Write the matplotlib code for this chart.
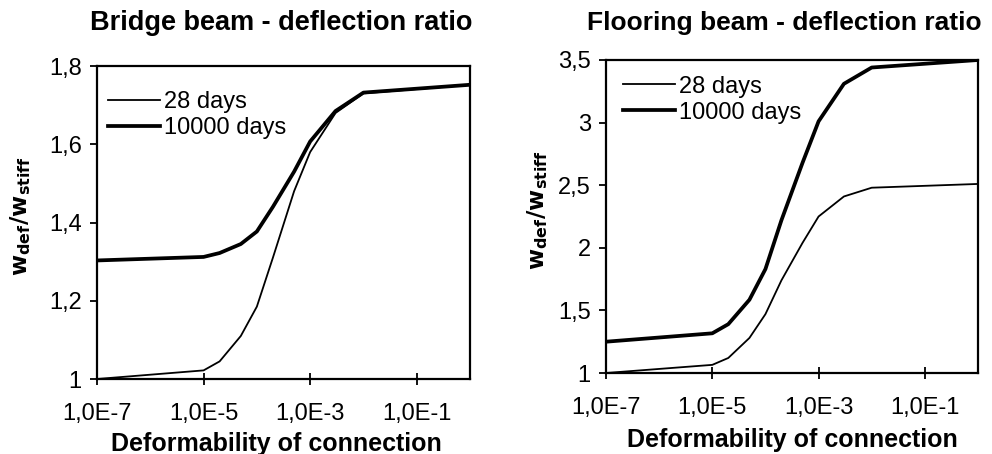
import math
import matplotlib
matplotlib.use("Agg")
import matplotlib.pyplot as plt
from matplotlib.ticker import FixedLocator, FuncFormatter, NullLocator

plt.rcParams['font.family'] = ['Liberation Sans', 'DejaVu Sans']

x_vals = [1e-7, 1e-5, 2e-5, 5e-5, 1e-4, 2e-4, 5e-4, 1e-3, 3e-3, 1e-2, 1.0]

bridge_28 = [1.0, 1.022, 1.045, 1.11, 1.185, 1.31, 1.48, 1.58, 1.68, 1.73, 1.752]
bridge_10000 = [1.303, 1.312, 1.322, 1.345, 1.377, 1.44, 1.53, 1.607, 1.685, 1.732, 1.752]

floor_28 = [1.0, 1.065, 1.12, 1.28, 1.47, 1.74, 2.04, 2.25, 2.41, 2.48, 2.51]
floor_10000 = [1.25, 1.317, 1.39, 1.585, 1.83, 2.22, 2.68, 3.01, 3.31, 3.44, 3.5]

titles = ["Bridge beam - deflection ratio", "Flooring beam - deflection ratio"]
legend_labels = ["28 days", "10000 days"]
xlabel = "Deformability of connection"
ylabel = r"$\mathbf{w_{def}/w_{stiff}}$"
x_ticks = [1e-7, 1e-5, 1e-3, 1e-1]
bridge_yticks = [1.0, 1.2, 1.4, 1.6, 1.8]
floor_yticks = [1.0, 1.5, 2.0, 2.5, 3.0, 3.5]


def fmt_x(v, pos):
    e = int(round(math.log10(v)))
    return "1,0E%d" % e


def fmt_y(v, pos):
    return ("%g" % round(v, 2)).replace('.', ',')


fig = plt.figure(figsize=(9.92, 4.54), dpi=100)
ax1 = fig.add_axes([97 / 992, 75 / 454, 373 / 992, 313 / 454])
ax2 = fig.add_axes([606 / 992, 81 / 454, 372 / 992, 313 / 454])

panels = [
    # ax, s28, s10k, yticks, ylim, title, title x px, title size,
    # ylabel x, xlabel (x, y), legend anchor
    (ax1, bridge_28, bridge_10000, bridge_yticks, (1.0, 1.8), titles[0],
     281, 19.5, -0.172, (0.48, -0.169), (0.03, 0.92)),
    (ax2, floor_28, floor_10000, floor_yticks, (1.0, 3.5), titles[1],
     784, 19, -0.15, (0.5, -0.176), (0.046, 0.95)),
]

for ax, s28, s10k, yt, ylim, title, tx, tsize, ylx, xlc, lanchor in panels:
    ax.plot(x_vals, s28, color='black', lw=1.3, label=legend_labels[0])
    ax.plot(x_vals, s10k, color='black', lw=2.7, label=legend_labels[1])
    ax.set_xscale('log')
    ax.set_xlim(1e-7, 1.0)
    ax.set_ylim(*ylim)
    ax.xaxis.set_major_locator(FixedLocator(x_ticks))
    ax.xaxis.set_minor_locator(NullLocator())
    ax.xaxis.set_major_formatter(FuncFormatter(fmt_x))
    ax.yaxis.set_major_locator(FixedLocator(yt))
    ax.yaxis.set_major_formatter(FuncFormatter(fmt_y))
    ax.tick_params(axis='x', direction='inout', length=9, width=1.3,
                   labelsize=17, pad=13)
    ax.tick_params(axis='y', direction='out', length=5, width=1.3,
                   labelsize=17, pad=6)
    for sp in ax.spines.values():
        sp.set_linewidth(1.6)
    ax.set_xlabel(xlabel, fontsize=18, fontweight='bold')
    ax.xaxis.set_label_coords(xlc[0], xlc[1])
    ax.set_ylabel(ylabel, fontsize=16.5)
    ax.yaxis.set_label_coords(ylx, 0.52)
    ax.legend(loc='upper left', frameon=False, fontsize=17,
              handlelength=2.2, handletextpad=0.15, labelspacing=0.17,
              borderaxespad=0.0, borderpad=0.0, bbox_to_anchor=lanchor)
    fig.text(tx / 992, 1 - 23 / 454, title, ha='center', va='center',
             fontsize=tsize, fontweight='bold')

fig.savefig("out.png", dpi=100)
